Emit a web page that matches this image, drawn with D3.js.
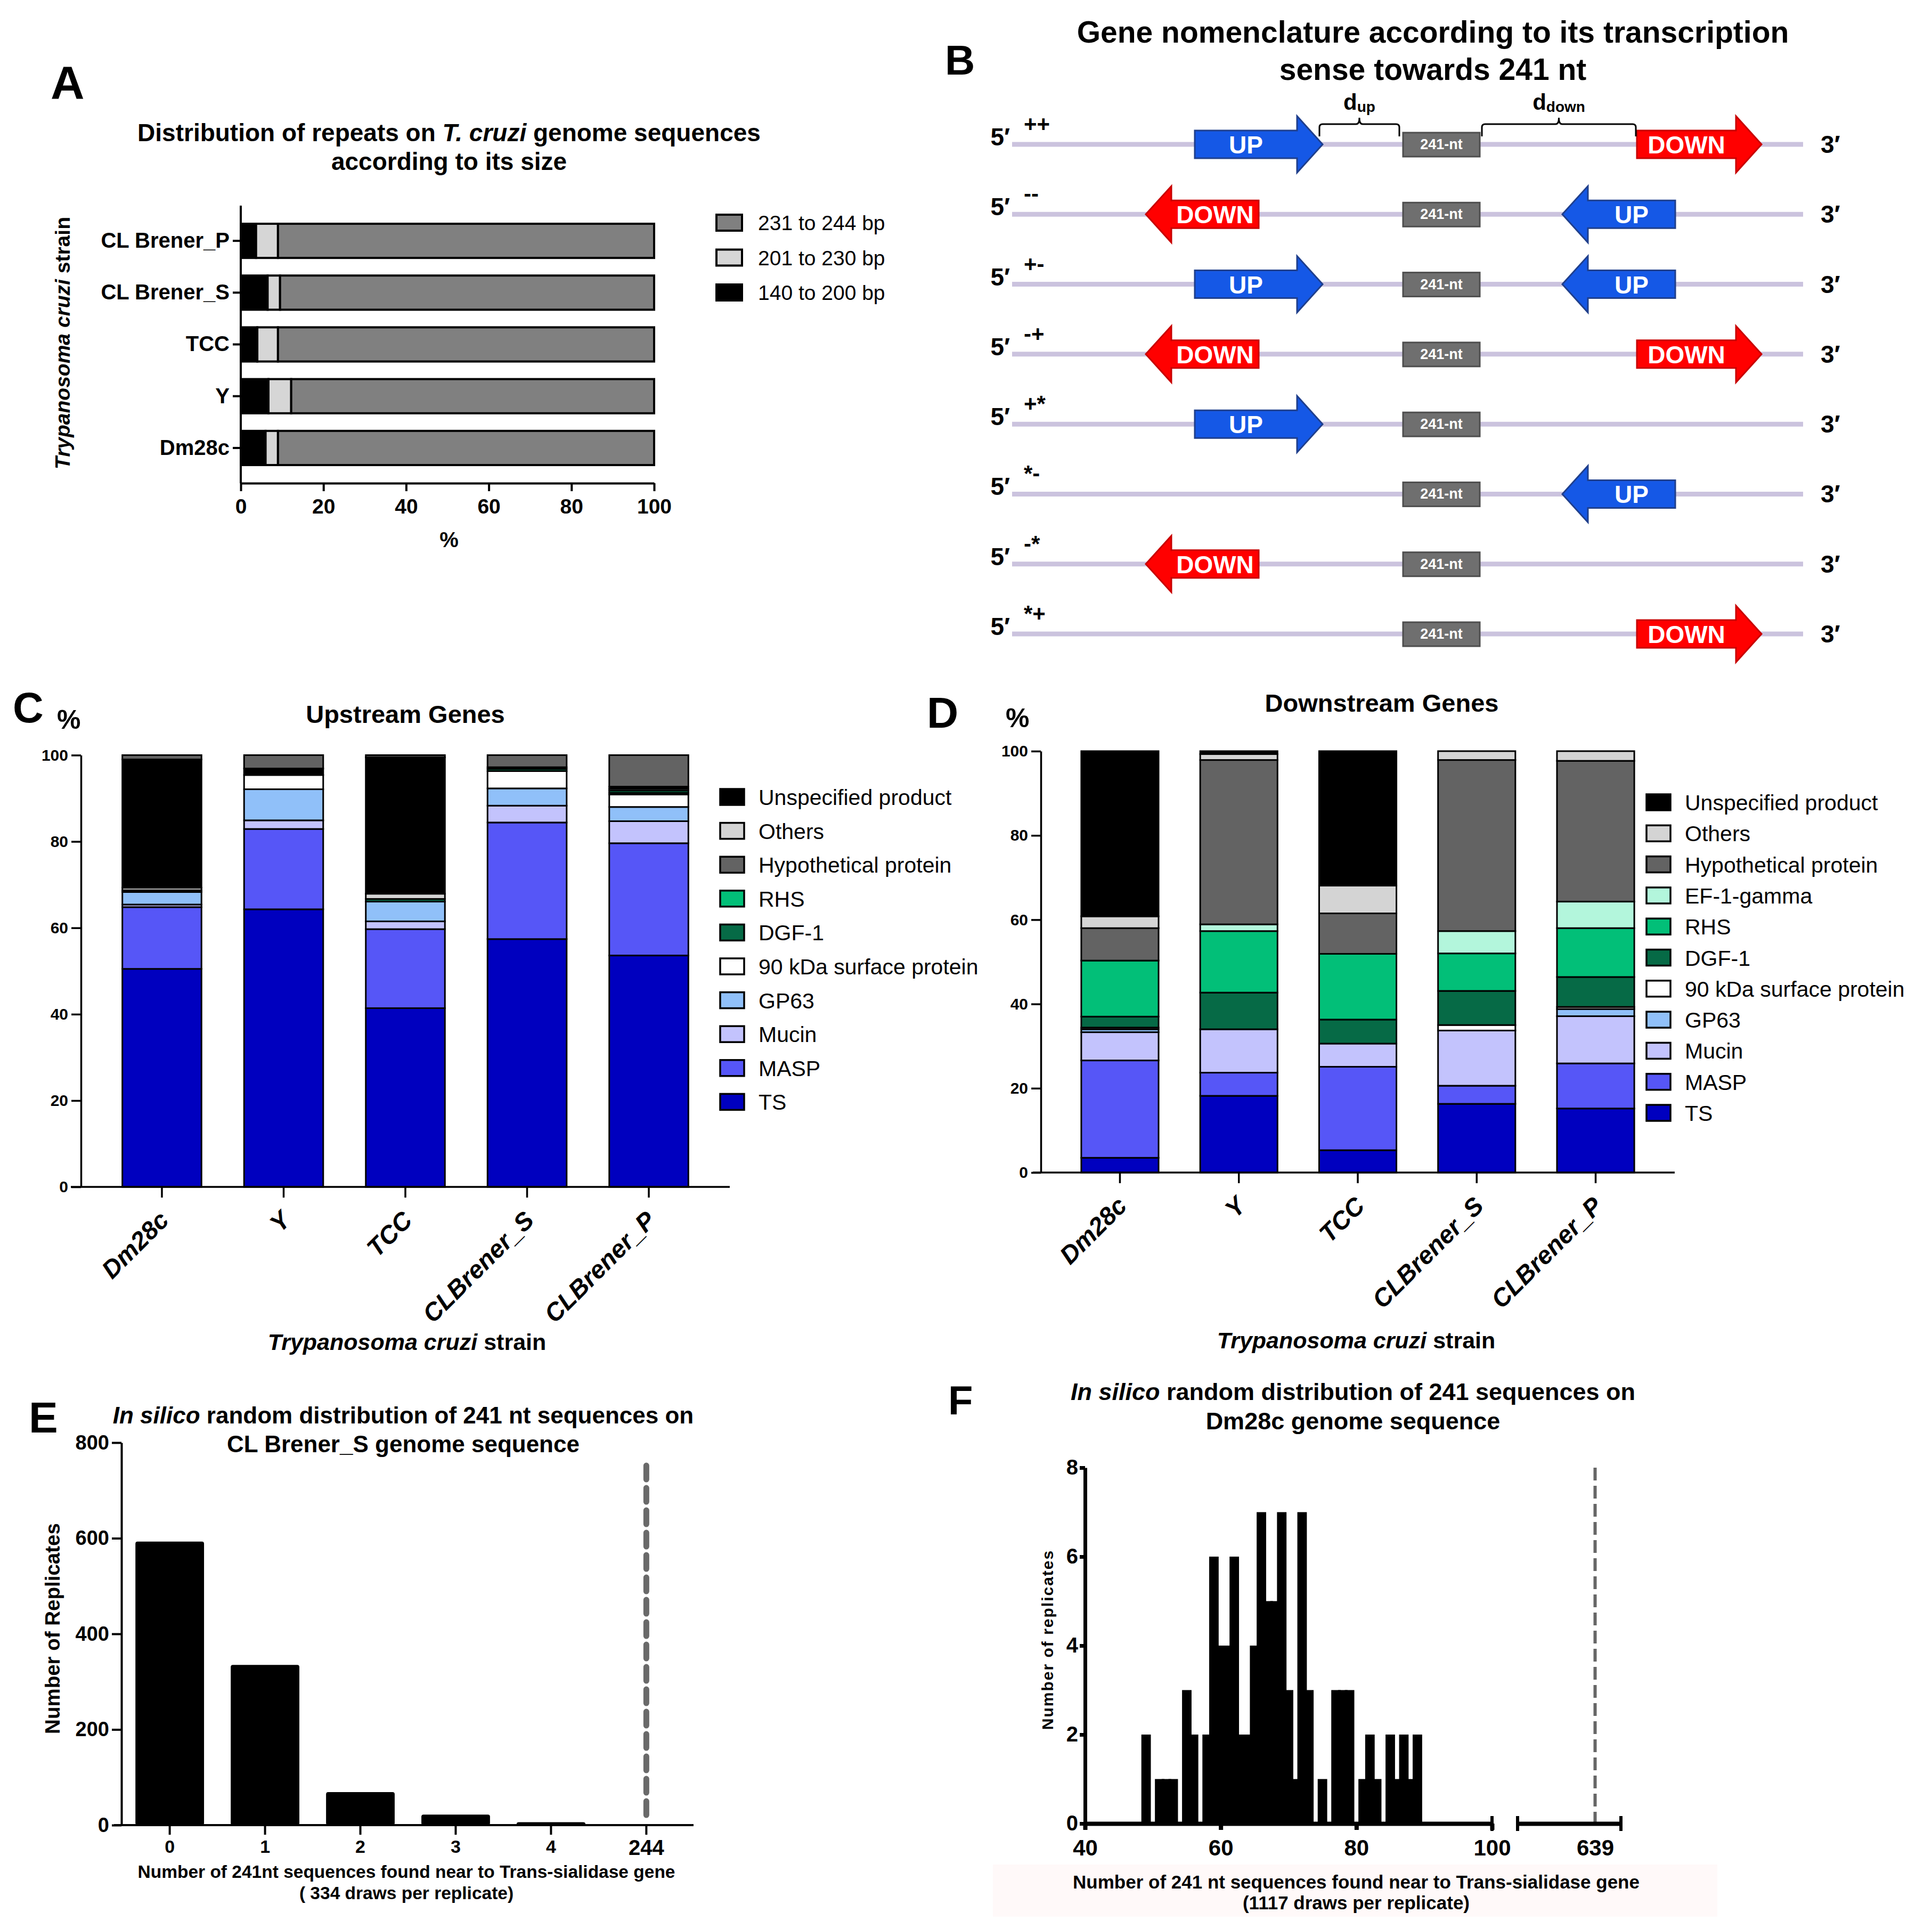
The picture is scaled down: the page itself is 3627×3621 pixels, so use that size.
<!DOCTYPE html>
<html>
<head>
<meta charset="utf-8">
<script src="https://cdn.jsdelivr.net/npm/d3@7"></script>
<style>
  body { margin: 0; background: #fff; }
  svg { display: block; }
</style>
</head>
<body>
<script>
// ---------- data ----------
// panel A : repeat size classes (%)
const strainsA = ["CL Brener_P", "CL Brener_S", "TCC", "Y", "Dm28c"];
const sizeKeys = ["140 to 200 bp", "201 to 230 bp", "231 to 244 bp"];
const size140 = [3.7, 6.5, 4.0, 6.7, 6.0];
const size201 = [5.3, 3.0, 5.0, 5.5, 3.0];
const size231 = [91.0, 90.5, 91.0, 87.8, 91.0];
const ticksA = [0, 20, 40, 60, 80, 100];

// panel B : transcription sense of neighbouring genes
const senseRows = ["++", "--", "+-", "-+", "+*", "*-", "-*", "*+"];

// panels C / D : strains, gene classes (%)
const strainsCD = ["Dm28c", "Y", "TCC", "CLBrener_S", "CLBrener_P"];
const ticksCD = [0, 20, 40, 60, 80, 100];

const upTS    = [50.5, 64.3, 41.4, 57.4, 53.6];
const upMASP  = [14.3, 18.6, 18.3, 27.0, 26.0];
const upMucin = [0.6, 2.0, 1.8, 3.9, 5.1];
const upGP63  = [2.9, 7.2, 4.6, 4.0, 3.3];
const up90kDa = [0.4, 3.3, 0.0, 4.0, 2.9];
const upDGF1  = [0.0, 0.0, 0.6, 0.5, 0.4];
const upRHS   = [0.0, 0.0, 0.0, 0.0, 0.5];
const upOthers = [0.6, 0.0, 1.2, 0.0, 0.4];
const upUnspec = [29.7, 1.5, 31.6, 0.4, 0.5];
const upHypo  = [1.0, 3.1, 0.5, 2.8, 7.3];

const downTS    = [3.5, 18.2, 5.3, 16.3, 15.2];
const downMASP  = [23.1, 5.5, 19.8, 4.3, 10.7];
const downMucin = [6.7, 10.3, 5.5, 13.1, 11.2];
const downGP63  = [0.7, 0.0, 0.0, 0.0, 1.7];
const down90kDa = [0.4, 0.0, 0.0, 1.3, 0.5];
const downDGF1  = [2.6, 8.7, 5.7, 8.1, 7.1];
const downRHS   = [13.3, 14.6, 15.6, 8.9, 11.6];
const downEF1   = [0.0, 1.6, 0.0, 5.3, 6.3];
const downHypo  = [7.7, 39.0, 9.6, 40.6, 33.4];
const downOthers = [2.8, 1.4, 6.6, 2.1, 2.3];
const downUnspec = [39.2, 0.7, 31.9, 0.0, 0.0];

const legendUp = ["Unspecified product", "Others", "Hypothetical protein", "RHS", "DGF-1",
  "90 kDa surface protein", "GP63", "Mucin", "MASP", "TS"];
const legendDown = ["Unspecified product", "Others", "Hypothetical protein", "EF-1-gamma", "RHS", "DGF-1",
  "90 kDa surface protein", "GP63", "Mucin", "MASP", "TS"];

// panel E : replicates per number of 241 nt found
const countsE = ["0", "1", "2", "3", "4", "244"];
const replicatesE = [593, 335, 69, 22, 6, 0];
const ticksE = [0, 200, 400, 600, 800];
const observedE = "244";

// panel F : histogram (bins of 1)
const binsF = [49, 50, 51, 52, 53, 54, 55, 56, 57, 58, 59, 60, 61, 62, 63, 64, 65, 66, 67, 68, 69,
  70, 71, 72, 73, 74, 75, 76, 77, 78, 79, 80, 81, 82, 83, 84, 85, 86, 87, 88, 89];
const replicatesF = [2, 0, 1, 1, 1, 0, 3, 2, 0, 2, 6, 4, 4, 6, 2, 2, 4, 7, 5, 5, 7,
  3, 1, 7, 3, 0, 1, 0, 3, 3, 3, 0, 1, 2, 1, 0, 2, 1, 2, 1, 2];
const ticksF = [40, 60, 80, 100];
const ticksYF = [0, 2, 4, 6, 8];
const observedF = 639;

// ---------- styles ----------
const FONT = "'Liberation Sans', Arial, Helvetica, sans-serif";
const catColor = {
  "TS": "#0000bf", "MASP": "#5656f7", "Mucin": "#c3c3fd", "GP63": "#90c0f9",
  "90 kDa surface protein": "#ffffff", "DGF-1": "#066a46", "RHS": "#02bf78",
  "EF-1-gamma": "#b3f6dc", "Hypothetical protein": "#636363", "Others": "#d4d4d4",
  "Unspecified product": "#000000"
};
const sizeColor = { "140 to 200 bp": "#000000", "201 to 230 bp": "#d6d6d6", "231 to 244 bp": "#808080" };

const W = 3627, H = 3621;
const svg = d3.select("body").append("svg")
  .attr("width", W).attr("height", H)
  .attr("viewBox", "0 0 " + W + " " + H);
svg.append("rect").attr("width", W).attr("height", H).attr("fill", "#fff");

// text helper: parts are strings or {t, i} for italic
function txt(x, y, parts, size, anchor, weight) {
  const t = svg.append("text")
    .attr("x", x).attr("y", y)
    .attr("text-anchor", anchor || "middle")
    .style("font-family", FONT)
    .style("font-size", size + "px")
    .style("font-weight", weight || "bold");
  (Array.isArray(parts) ? parts : [parts]).forEach(p => {
    const s = t.append("tspan").text(typeof p === "string" ? p : p.t);
    if (p.i) s.style("font-style", "italic");
  });
  return t;
}
function styleAxis(g, size, width) {
  g.attr("font-family", null).attr("font-size", null);
  g.selectAll("path, line").attr("stroke", "#000").attr("stroke-width", width);
  g.selectAll("text").style("font-family", FONT).style("font-size", size + "px")
    .style("font-weight", "bold").attr("fill", "#000");
}

// ---------- panel letters ----------
txt(95, 185, "A", 88, "start");
txt(1774, 140, "B", 78, "start");
txt(24, 1356, "C", 80, "start");
txt(1740, 1366, "D", 82, "start");
txt(54, 2689, "E", 82, "start");
txt(1780, 2655, "F", 76, "start");

// ---------- panel A ----------
txt(843, 265, ["Distribution of repeats on ", { t: "T. cruzi", i: true }, " genome sequences"], 46);
txt(843, 319, "according to its size", 46);

const xA = d3.scaleLinear().domain([0, 100]).range([452, 1228]);
const yA = d3.scaleBand().domain(strainsA).range([386, 907]).paddingInner(0.34).paddingOuter(0.35);
const rowsA = strainsA.map((s, i) => ({ strain: s, "140 to 200 bp": size140[i], "201 to 230 bp": size201[i], "231 to 244 bp": size231[i] }));
const stackA = d3.stack().keys(sizeKeys)(rowsA);
svg.append("g").selectAll("g").data(stackA).join("g")
  .attr("fill", d => sizeColor[d.key])
  .selectAll("rect").data(d => d).join("rect")
  .attr("x", d => xA(d[0])).attr("width", d => xA(d[1]) - xA(d[0]))
  .attr("y", d => yA(d.data.strain)).attr("height", yA.bandwidth())
  .attr("stroke", "#000").attr("stroke-width", 4);

const gAx = svg.append("g").attr("transform", "translate(0,907)")
  .call(d3.axisBottom(xA).tickValues(ticksA).tickSize(15).tickSizeOuter(0).tickPadding(14));
styleAxis(gAx, 39, 4);
const gAy = svg.append("g").attr("transform", "translate(452,0)")
  .call(d3.axisLeft(yA).tickSize(15).tickSizeOuter(0).tickPadding(6));
gAy.select(".domain").attr("d", "M0,386V907");
styleAxis(gAy, 40, 4);
txt(843, 1027, "%", 40);
txt(0, 0, [{ t: "Trypanosoma cruzi", i: true }, " strain"], 39)
  .attr("transform", "translate(131,644) rotate(-90)");

const legA = svg.append("g").selectAll("g").data(sizeKeys.slice().reverse()).join("g")
  .attr("transform", (d, i) => "translate(1345," + (418 + i * 65.5) + ")");
legA.append("rect").attr("x", 0).attr("y", -15).attr("width", 48).attr("height", 30)
  .attr("fill", d => sizeColor[d]).attr("stroke", "#000").attr("stroke-width", 4);
legA.append("text").attr("x", 78).attr("y", 14).text(d => d)
  .style("font-family", FONT).style("font-size", "39px");

// ---------- panel B ----------
txt(2690, 80, "Gene nomenclature according to its transcription", 57);
txt(2690, 150, "sense towards 241 nt", 57);

const rowY = d3.scalePoint().domain(d3.range(senseRows.length)).range([271, 1190]);
const lineX0 = 1900, lineX1 = 3385, boxX0 = 2634, boxX1 = 2778;
const geneSlot = {
  left: { "+": [2243, 2483], "-": [2363, 2151] },
  right: { "+": [3073, 3307], "-": [3145, 2933] }
};
function arrowPath(from, to, cy) {
  const dir = Math.sign(to - from), hl = 48, bh = 26, hh = 53, hb = to - dir * hl;
  return d3.line()([[from, cy - bh], [hb, cy - bh], [hb, cy - hh], [to, cy], [hb, cy + hh], [hb, cy + bh], [from, cy + bh]]) + "Z";
}
const gB = svg.append("g");
senseRows.forEach((s, i) => {
  const cy = rowY(i);
  gB.append("line").attr("x1", lineX0).attr("x2", lineX1).attr("y1", cy).attr("y2", cy)
    .attr("stroke", "#cbc3de").attr("stroke-width", 9);
  txt(1896, cy + 2, "5\u2032", 46, "end");
  txt(3418, cy + 16, "3\u2032", 46, "start");
  txt(1922, cy - 24, s, 42, "start");
  gB.append("rect").attr("x", boxX0).attr("y", cy - 22).attr("width", boxX1 - boxX0).attr("height", 45)
    .attr("fill", "#6f6f6f").attr("stroke", "#4e4e4e").attr("stroke-width", 3);
  txt((boxX0 + boxX1) / 2, cy + 9, "241-nt", 27).attr("fill", "#fff");
  [["left", s[0]], ["right", s[1]]].forEach(([side, c]) => {
    if (c === "*") return;
    const [from, to] = geneSlot[side][c];
    const name = (side === "left") === (c === "+") ? "UP" : "DOWN";
    const up = name === "UP";
    gB.append("path").attr("d", arrowPath(from, to, cy))
      .attr("fill", up ? "#1558e6" : "#ff0000")
      .attr("stroke", up ? "#1f3f8c" : "#c80000").attr("stroke-width", 3);
    const hb = to - Math.sign(to - from) * 48;
    txt((from + hb) / 2, cy + 17, name, 46).attr("fill", "#fff");
  });
});
// distance brackets on the first row
function bracket(a, b) {
  const m = (a + b) / 2, yb = 233;
  return "M" + a + ",256 L" + a + "," + (yb + 6) + " Q" + a + "," + yb + " " + (a + 6) + "," + yb +
    " L" + (m - 6) + "," + yb + " Q" + m + "," + yb + " " + m + ",221 Q" + m + "," + yb + " " + (m + 6) + "," + yb +
    " L" + (b - 6) + "," + yb + " Q" + b + "," + yb + " " + b + "," + (yb + 6) + " L" + b + ",256";
}
[[2477, 2627, "up"], [2782, 3071, "down"]].forEach(([a, b, sub]) => {
  gB.append("path").attr("d", bracket(a, b)).attr("fill", "none").attr("stroke", "#000").attr("stroke-width", 3);
  const t = txt((a + b) / 2, 206, "d", 42);
  t.append("tspan").text(sub).style("font-size", "28px").attr("dy", 4);
});

// ---------- panels C and D ----------
function stackPanel(o) {
  const x = d3.scaleBand().domain(strainsCD).range([o.axisX, o.xEnd]).paddingInner(0.35).paddingOuter(0.34);
  const y = d3.scaleLinear().domain([0, 100]).range([o.yb, o.yt]);
  const rows = strainsCD.map((s, i) => {
    const r = { strain: s };
    o.series.forEach(([k, v]) => { r[k] = v[i]; });
    return r;
  });
  const stacked = d3.stack().keys(o.series.map(d => d[0]))(rows);
  svg.append("g").selectAll("g").data(stacked).join("g")
    .attr("fill", d => catColor[d.key])
    .selectAll("rect").data(d => d.filter(p => p[1] - p[0] > 0)).join("rect")
    .attr("x", d => x(d.data.strain)).attr("width", x.bandwidth())
    .attr("y", d => y(d[1])).attr("height", d => y(d[0]) - y(d[1]))
    .attr("stroke", "#000").attr("stroke-width", 3);

  const gy = svg.append("g").attr("transform", "translate(" + o.axisX + ",0)")
    .call(d3.axisLeft(y).tickValues(ticksCD).tickSize(18).tickSizeOuter(0).tickPadding(6));
  styleAxis(gy, 30, 3.5);
  const gx = svg.append("g").attr("transform", "translate(0," + o.yb + ")")
    .call(d3.axisBottom(x).tickSize(20).tickSizeOuter(0).tickFormat(""));
  gx.select(".domain").attr("d", "M" + o.xStart + ",0H" + o.xEnd);
  styleAxis(gx, 30, 3.5);
  strainsCD.forEach(s => {
    txt(0, 0, s, 47, "end").style("font-style", "italic").attr("dy", "0.35em")
      .attr("transform", "translate(" + (x(s) + x.bandwidth() / 2 + 4) + "," + (o.yb + 54) + ") rotate(-45)");
  });

  txt(o.titleX, o.titleY, o.title, 47);
  txt(o.pctX, o.pctY, "%", 50, "start");
  txt(o.xTitleX, o.xTitleY, [{ t: "Trypanosoma cruzi", i: true }, " strain"], 43);

  const leg = svg.append("g").selectAll("g").data(o.legend).join("g")
    .attr("transform", (d, i) => "translate(" + o.legX + "," + (o.legY + i * o.legStep) + ")");
  leg.append("rect").attr("x", 0).attr("y", -15).attr("width", 45).attr("height", 30)
    .attr("fill", d => catColor[d]).attr("stroke", "#000").attr("stroke-width", 3.5);
  leg.append("text").attr("x", 72).attr("y", 15).text(d => d)
    .style("font-family", FONT).style("font-size", "41px");
}

stackPanel({
  axisX: 152, xStart: 133, xEnd: 1370, yb: 2228, yt: 1417.5,
  series: [["TS", upTS], ["MASP", upMASP], ["Mucin", upMucin], ["GP63", upGP63],
    ["90 kDa surface protein", up90kDa], ["DGF-1", upDGF1], ["RHS", upRHS], ["Others", upOthers],
    ["Unspecified product", upUnspec], ["Hypothetical protein", upHypo]],
  legend: legendUp, legX: 1352, legY: 1496, legStep: 63.6,
  title: "Upstream Genes", titleX: 761, titleY: 1357,
  pctX: 107, pctY: 1368, xTitleX: 764, xTitleY: 2534
});
stackPanel({
  axisX: 1954, xStart: 1939, xEnd: 3144, yb: 2201, yt: 1410,
  series: [["TS", downTS], ["MASP", downMASP], ["Mucin", downMucin], ["GP63", downGP63],
    ["90 kDa surface protein", down90kDa], ["DGF-1", downDGF1], ["RHS", downRHS], ["EF-1-gamma", downEF1],
    ["Hypothetical protein", downHypo], ["Others", downOthers], ["Unspecified product", downUnspec]],
  legend: legendDown, legX: 3091, legY: 1506, legStep: 58.3,
  title: "Downstream Genes", titleX: 2594, titleY: 1336,
  pctX: 1888, pctY: 1365, xTitleX: 2546, xTitleY: 2531
});

// ---------- panel E ----------
txt(757, 2672, [{ t: "In silico", i: true }, " random distribution of 241 nt sequences on"], 44);
txt(757, 2726, "CL Brener_S genome sequence", 44);
const xE = d3.scaleBand().domain(countsE).range([222, 1310]).paddingInner(0.28).paddingOuter(0.18);
const yE = d3.scaleLinear().domain([0, 800]).range([3426, 2708]);
svg.append("g").selectAll("rect").data(countsE).join("rect")
  .attr("x", d => xE(d)).attr("width", xE.bandwidth())
  .attr("y", (d, i) => yE(replicatesE[i])).attr("height", (d, i) => yE(0) - yE(replicatesE[i]))
  .attr("rx", 4).attr("fill", "#000");
svg.append("line")
  .attr("x1", xE(observedE) + xE.bandwidth() / 2).attr("x2", xE(observedE) + xE.bandwidth() / 2)
  .attr("y1", yE(752)).attr("y2", yE(12))
  .attr("stroke", "#6a6a6a").attr("stroke-width", 11).attr("stroke-dasharray", "26,16").attr("stroke-linecap", "round");
const gEy = svg.append("g").attr("transform", "translate(228,0)")
  .call(d3.axisLeft(yE).tickValues(ticksE).tickSize(18).tickSizeOuter(0).tickPadding(5));
styleAxis(gEy, 38, 4);
const gEx = svg.append("g").attr("transform", "translate(0,3426)")
  .call(d3.axisBottom(xE).tickSize(18).tickSizeOuter(0).tickPadding(10));
gEx.select(".domain").attr("d", "M214,0H1302");
styleAxis(gEx, 34, 4);
gEx.selectAll(".tick text").filter(d => d === observedE).style("font-size", "40px");
txt(763, 3525, "Number of 241nt sequences found near to Trans-sialidase gene", 33.5);
txt(763, 3565, "( 334 draws per replicate)", 33.5);
txt(0, 0, "Number of Replicates", 38.5).attr("transform", "translate(112,3057) rotate(-90)");

// ---------- panel F ----------
svg.append("rect").attr("x", 1864).attr("y", 3500).attr("width", 1360).attr("height", 98).attr("fill", "#fff9f9");
txt(2540, 2628, [{ t: "In silico", i: true }, " random distribution of 241 sequences on"], 45);
txt(2540, 2683, "Dm28c genome sequence", 45);
const xF = d3.scaleLinear().domain([40, 100]).range([2037, 2801]);
const xBreak = d3.scaleLinear().domain([630, 642]).range([2849, 3043]);
const yF = d3.scaleLinear().domain([0, 8]).range([3423, 2755]);
svg.append("g").selectAll("rect").data(binsF).join("rect")
  .attr("x", d => xF(d - 0.7)).attr("width", xF(1.4) - xF(0))
  .attr("y", (d, i) => yF(replicatesF[i])).attr("height", (d, i) => yF(0) - yF(replicatesF[i]))
  .attr("fill", "#000");
svg.append("line")
  .attr("x1", xBreak(observedF)).attr("x2", xBreak(observedF))
  .attr("y1", yF(8)).attr("y2", yF(0))
  .attr("stroke", "#666").attr("stroke-width", 6).attr("stroke-dasharray", "24,10");
const gFy = svg.append("g").attr("transform", "translate(2037,0)")
  .call(d3.axisLeft(yF).tickValues(ticksYF).tickSize(10).tickSizeOuter(0).tickPadding(3));
styleAxis(gFy, 40, 7);
const gFx = svg.append("g").attr("transform", "translate(0,3423)")
  .call(d3.axisBottom(xF).tickValues(ticksF).tickSize(12).tickSizeOuter(0).tickPadding(18));
styleAxis(gFx, 42, 8);
const gFx2 = svg.append("g").attr("transform", "translate(0,3423)")
  .call(d3.axisBottom(xBreak).tickValues([observedF]).tickSize(0).tickSizeOuter(0).tickPadding(30));
styleAxis(gFx2, 42, 8);
// end caps at the axis break
[xF(100), xBreak(630), xBreak(642)].forEach(cx => {
  svg.append("line").attr("x1", cx).attr("x2", cx).attr("y1", 3409).attr("y2", 3437)
    .attr("stroke", "#000").attr("stroke-width", 6);
});
txt(2546, 3545, "Number of 241 nt sequences found near to Trans-sialidase gene", 35);
txt(2546, 3584, "(1117 draws per replicate)", 35);
txt(0, 0, "Number of replicates", 30).style("letter-spacing", "2px")
  .attr("transform", "translate(1977,3078) rotate(-90)");
</script>
</body>
</html>
